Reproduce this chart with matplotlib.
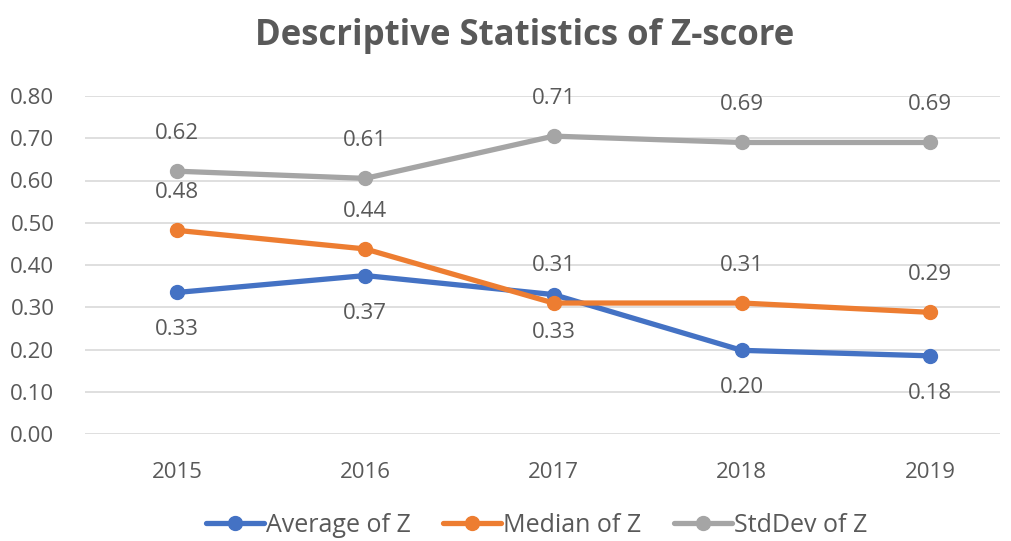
import matplotlib
matplotlib.use("Agg")
import matplotlib.pyplot as plt

years = ["2015", "2016", "2017", "2018", "2019"]
avg_z = [0.335, 0.375, 0.33, 0.198, 0.185]
med_z = [0.482, 0.438, 0.31, 0.31, 0.288]
std_z = [0.622, 0.605, 0.705, 0.69, 0.69]
avg_lbl = ["0.33", "0.37", "0.33", "0.20", "0.18"]
med_lbl = ["0.48", "0.44", "0.31", "0.31", "0.29"]
std_lbl = ["0.62", "0.61", "0.71", "0.69", "0.69"]
yticks = [0.0, 0.1, 0.2, 0.3, 0.4, 0.5, 0.6, 0.7, 0.8]

TXT = "#595959"
plt.rcParams["font.family"] = ["Open Sans", "DejaVu Sans"]

fig = plt.figure(figsize=(10.11, 5.41), dpi=100)
ax = fig.add_axes([85/1011, 107/541, 915/1011, 338/541])

x = list(range(len(years)))
series = [
    ("Average of Z", avg_z, avg_lbl, "#4472C4", 1),
    ("Median of Z", med_z, med_lbl, "#ED7D31", -1),
    ("StdDev of Z", std_z, std_lbl, "#A5A5A5", -1),
]
handles = []
for name, vals, lbls, col, d in series:
    h, = ax.plot(x, vals, color=col, lw=3.8, marker="o", ms=10, label=name,
                 solid_capstyle="round", zorder=3)
    handles.append(h)
    for xi, v, t in zip(x, vals, lbls):
        ax.annotate(t, (xi, v), xytext=(0, -27 if d == 1 else 27),
                    textcoords="offset points", ha="center", va="center",
                    fontsize=16, color=TXT)

ax.set_xlim(-0.489, 4.372)
ax.set_ylim(0, 0.8)
ax.set_yticks(yticks)
ax.set_yticklabels([f"{v:.2f}" for v in yticks])
ax.set_xticks(x)
ax.set_xticklabels(years)
ax.grid(axis="y", color="#D9D9D9", lw=1.2)
ax.set_axisbelow(True)
for s in ax.spines.values():
    s.set_visible(False)
ax.tick_params(axis="both", length=0, labelsize=16, labelcolor=TXT)
ax.tick_params(axis="x", pad=20)
ax.tick_params(axis="y", pad=22)

fig.text(0.519, 1 - 36/541, "Descriptive Statistics of Z-score", ha="center",
         va="center", fontsize=25, fontweight="bold", color=TXT)

fig.legend(handles=handles, loc="center", bbox_to_anchor=(0.531, 1 - 525/541),
           ncol=3, frameon=False, fontsize=18, labelcolor=TXT,
           handlelength=2.3, handletextpad=0.1, columnspacing=1.3)

fig.savefig("out.png", dpi=100)
